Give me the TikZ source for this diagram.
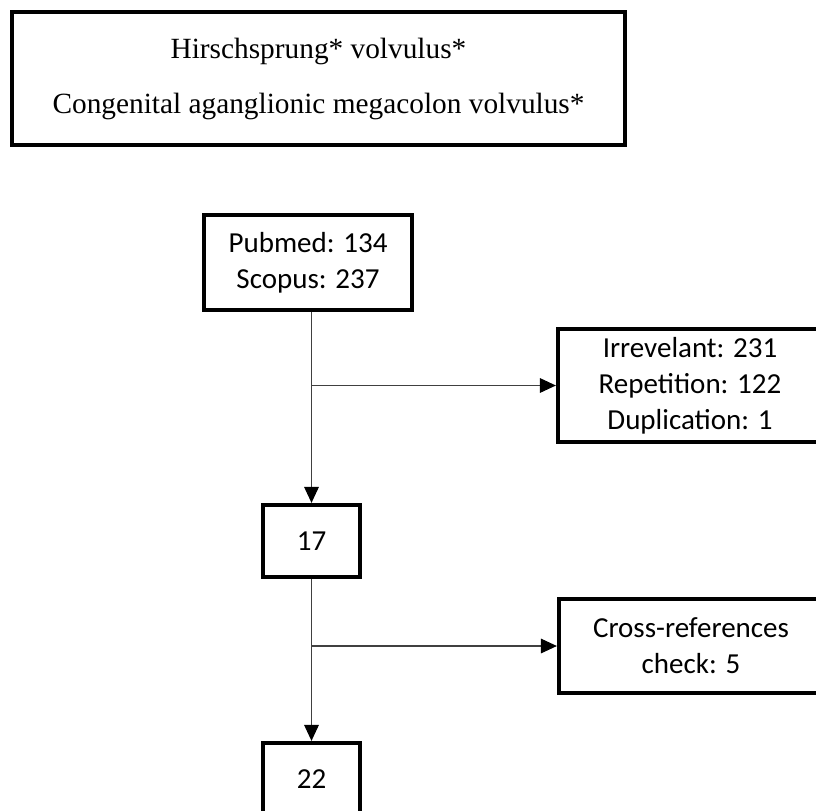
\documentclass[tikz,border=0pt]{standalone}
\usepackage{fontspec}
\setmainfont{Liberation Serif}
\newfontfamily\calibri{Carlito}
\usetikzlibrary{arrows.meta,positioning}
\begin{document}
\begin{tikzpicture}[x=0.75pt,y=-0.75pt,
  box/.style={draw,line width=3.2pt,align=center,inner sep=0pt,
    font=\calibri\fontsize{21.75}{27}\selectfont},
  link/.style={draw=black!75,line width=0.8pt},
  arr/.style={link,-{Triangle[length=12pt,width=11pt,color=black]}}]
  \useasboundingbox (0,0) rectangle (816,810);
  \clip (0,0) rectangle (816,810);
  \node[box,line width=3.6pt,minimum width=459.75pt,minimum height=99.75pt,
    font=\fontsize{22}{41.25}\selectfont] (query) at (318.5,78.5)
    {Hirschsprung* volvulus*\\Congenital aganglionic megacolon volvulus*};
  \node[box,minimum width=156pt,minimum height=71.25pt] (search) at (308,262.5)
    {Pubmed: 134\\Scopus: 237};
  \node[box,minimum width=72.75pt,minimum height=54pt] (n17) at (311.5,541) {17};
  \node[box,minimum width=72.75pt,minimum height=54pt] (n22) at (311.5,779) {22};
  \node[box,minimum width=198pt,minimum height=84.75pt] (irrel) at (690,385.5)
    {Irrevelant: 231\\Repetition: 122\\Duplication: 1};
  \node[box,minimum width=198pt,minimum height=70.5pt] (cross) at (691,646)
    {Cross-references\\check: 5};
  \draw[arr] (search.south -| n17) -- (n17.north);
  \draw[arr] (n17 |- irrel.west) -- (irrel.west);
  \draw[arr] (n17.south) -- (n22.north);
  \draw[arr] (n17 |- cross.west) -- (cross.west);
\end{tikzpicture}
\end{document}
